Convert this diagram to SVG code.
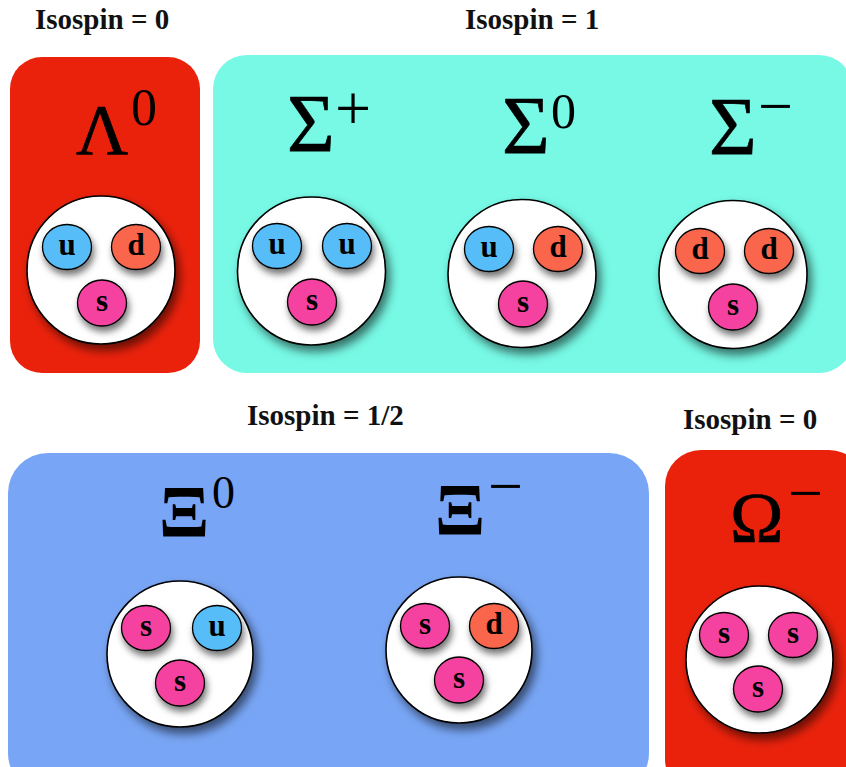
<svg xmlns="http://www.w3.org/2000/svg" width="846" height="767" viewBox="0 0 846 767">
  <defs>
    <filter id="bigShadow" x="-30%" y="-30%" width="170%" height="170%">
      <feDropShadow dx="4" dy="6" stdDeviation="5" flood-color="#000" flood-opacity="0.55"/>
    </filter>
    <filter id="quarkShadow" x="-50%" y="-50%" width="200%" height="200%">
      <feDropShadow dx="2" dy="5" stdDeviation="3.5" flood-color="#000" flood-opacity="0.55"/>
    </filter>
  </defs>
  <style>
    .title { font-family: "Liberation Serif", "Times New Roman", serif; font-weight: bold; font-size: 29px; fill: #111; }
    .greek { font-family: "Liberation Serif", "Times New Roman", serif; fill: #000; stroke: #000; stroke-width: 0.7; }
    .xi { font-weight: bold; stroke-width: 0; }
    .sup { font-family: "Liberation Serif", "Times New Roman", serif; fill: #000; }
    .hadron { fill: #fff; stroke: #000; stroke-width: 1.6; filter: url(#bigShadow); }
    .q { stroke: #000; stroke-width: 1.3; filter: url(#quarkShadow); }
    .u { fill: #56BDF8; }
    .d { fill: #F9664B; }
    .s { fill: #F542A1; }
    .ql { font-family: "Liberation Serif", "Times New Roman", serif; font-weight: bold; font-size: 31px; fill: #000; text-anchor: middle; }
  </style>

  <!-- isospin titles -->
  <text class="title" x="35" y="29">Isospin = 0</text>
  <text class="title" x="465" y="29">Isospin = 1</text>
  <text class="title" x="247" y="425">Isospin = 1/2</text>
  <text class="title" x="683" y="429">Isospin = 0</text>

  <!-- Lambda singlet -->
  <g id="lambda0">
    <rect x="10" y="57" width="190" height="316" rx="32" fill="#EA220C"/>
    <text class="greek" x="76" y="154" font-size="72">Λ</text>
    <text class="sup" x="131" y="125" font-size="52">0</text>
    <circle class="hadron" cx="101" cy="270" r="74"/>
    <ellipse class="q u" cx="67" cy="247" rx="24.5" ry="22.5"/>
    <text class="ql" x="67" y="255">u</text>
    <ellipse class="q d" cx="136" cy="247" rx="24.5" ry="22.5"/>
    <text class="ql" x="136" y="255">d</text>
    <ellipse class="q s" cx="102" cy="303" rx="24.5" ry="23"/>
    <text class="ql" x="102" y="311">s</text>
  </g>

  <!-- Sigma triplet -->
  <g id="sigma-triplet">
    <rect x="213" y="55" width="640" height="318" rx="34" fill="#77F9E5"/>

    <g id="sigma-plus">
      <text class="greek" x="287" y="151" font-size="82">Σ</text>
      <text class="sup" x="335" y="130" font-size="64">+</text>
      <circle class="hadron" cx="311.5" cy="271" r="74"/>
      <ellipse class="q u" cx="277" cy="246" rx="24.5" ry="22.5"/>
      <text class="ql" x="277" y="254">u</text>
      <ellipse class="q u" cx="347" cy="246" rx="24.5" ry="22.5"/>
      <text class="ql" x="347" y="254">u</text>
      <ellipse class="q s" cx="312" cy="302" rx="24.5" ry="23"/>
      <text class="ql" x="312" y="310">s</text>
    </g>

    <g id="sigma-zero">
      <text class="greek" x="502" y="153" font-size="82">Σ</text>
      <text class="sup" x="551" y="128" font-size="50">0</text>
      <circle class="hadron" cx="522" cy="273.5" r="74"/>
      <ellipse class="q u" cx="489" cy="249" rx="24.5" ry="22.5"/>
      <text class="ql" x="489" y="257">u</text>
      <ellipse class="q d" cx="558" cy="249" rx="24.5" ry="22.5"/>
      <text class="ql" x="558" y="257">d</text>
      <ellipse class="q s" cx="523" cy="304" rx="24.5" ry="23"/>
      <text class="ql" x="523" y="312">s</text>
    </g>

    <g id="sigma-minus">
      <text class="greek" x="709" y="154" font-size="82">Σ</text>
      <text class="sup" x="758" y="127" font-size="62">−</text>
      <circle class="hadron" cx="733" cy="274.5" r="74"/>
      <ellipse class="q d" cx="700" cy="251" rx="24.5" ry="22.5"/>
      <text class="ql" x="700" y="259">d</text>
      <ellipse class="q d" cx="769" cy="251" rx="24.5" ry="22.5"/>
      <text class="ql" x="769" y="259">d</text>
      <ellipse class="q s" cx="733" cy="307" rx="24.5" ry="23"/>
      <text class="ql" x="733" y="315">s</text>
    </g>
  </g>

  <!-- Xi doublet -->
  <g id="xi-doublet">
    <rect x="8" y="453" width="641" height="340" rx="40" fill="#78A5F5"/>

    <g id="xi-zero">
      <text class="greek xi" x="159" y="537" font-size="74">Ξ</text>
      <text class="sup" x="212" y="508" font-size="46">0</text>
      <circle class="hadron" cx="180" cy="654" r="73"/>
      <ellipse class="q s" cx="146" cy="628" rx="24.5" ry="22.5"/>
      <text class="ql" x="146" y="636">s</text>
      <ellipse class="q u" cx="217" cy="628" rx="24.5" ry="22.5"/>
      <text class="ql" x="217" y="636">u</text>
      <ellipse class="q s" cx="180" cy="683" rx="24.5" ry="23"/>
      <text class="ql" x="180" y="691">s</text>
    </g>

    <g id="xi-minus">
      <text class="greek xi" x="435" y="535" font-size="74">Ξ</text>
      <text class="sup" x="488" y="507" font-size="62">−</text>
      <circle class="hadron" cx="459" cy="650" r="73"/>
      <ellipse class="q s" cx="425" cy="626" rx="24.5" ry="22.5"/>
      <text class="ql" x="425" y="634">s</text>
      <ellipse class="q d" cx="494" cy="626" rx="24.5" ry="22.5"/>
      <text class="ql" x="494" y="634">d</text>
      <ellipse class="q s" cx="459" cy="680" rx="24.5" ry="23"/>
      <text class="ql" x="459" y="688">s</text>
    </g>
  </g>

  <!-- Omega singlet -->
  <g id="omega-minus">
    <rect x="665" y="450" width="200" height="345" rx="36" fill="#EA220C"/>
    <text class="greek" x="730" y="542" font-size="72">Ω</text>
    <text class="sup" x="788" y="514" font-size="62">−</text>
    <circle class="hadron" cx="759.5" cy="659.5" r="73.5"/>
    <ellipse class="q s" cx="724" cy="635" rx="24.5" ry="22.5"/>
    <text class="ql" x="724" y="643">s</text>
    <ellipse class="q s" cx="793" cy="635" rx="24.5" ry="22.5"/>
    <text class="ql" x="793" y="643">s</text>
    <ellipse class="q s" cx="758" cy="689" rx="24.5" ry="23"/>
    <text class="ql" x="758" y="697">s</text>
  </g>
</svg>
